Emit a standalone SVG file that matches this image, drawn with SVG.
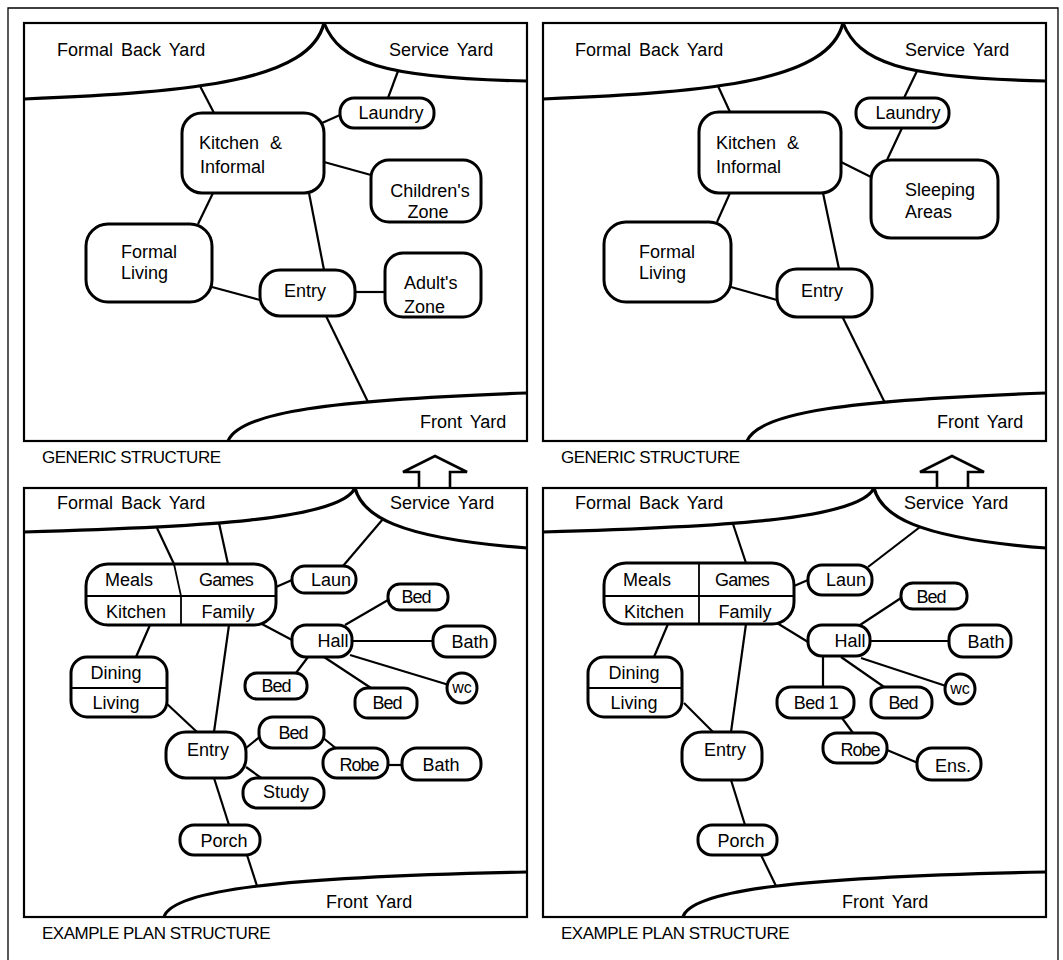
<svg xmlns="http://www.w3.org/2000/svg" width="1063" height="960" viewBox="0 0 1063 960">
<style>
.frame{fill:none;stroke:#000;stroke-width:1.3}
.panel{fill:none;stroke:#000;stroke-width:2.2}
.yard{fill:none;stroke:#000;stroke-width:3.2}
.node{fill:#fff;stroke:#000;stroke-width:3}
.div{fill:none;stroke:#000;stroke-width:1.8}
.link{fill:none;stroke:#000;stroke-width:2.2}
.arrow{fill:none;stroke:#000;stroke-width:2.6;stroke-linejoin:miter}
text{font-family:"Liberation Sans",Arial,Helvetica,sans-serif;font-size:18px;fill:#000}
.mid{text-anchor:middle}
.cap{font-size:17px;letter-spacing:-0.5px}
.yl{word-spacing:3px}
.sm{font-size:16px}
</style>
<rect width="1063" height="960" fill="#fff"/>
<path class="frame" d="M8,962 V8 H1058 V962"/>

<!-- panel frames -->
<g id="panel-tl">
<rect class="panel" x="24" y="23" width="503" height="418"/>
<path class="yard" d="M24,99 C200,92 310,80 324,23"/>
<path class="yard" d="M324,23 C340,62 380,78 527,81"/>
<path class="yard" d="M228,441 C240,412 330,400 527,393"/>
<text class="yl" x="57" y="56">Formal Back Yard</text>
<text class="yl" x="389" y="56">Service Yard</text>
<text class="yl" x="420" y="428">Front Yard</text>
<text class="cap" x="42" y="463">GENERIC STRUCTURE</text>
</g>
<g id="panel-tr">
<g transform="translate(519,0)">
<rect class="panel" x="24" y="23" width="503" height="418"/>
<path class="yard" d="M24,99 C200,92 310,80 324,23"/>
<path class="yard" d="M324,23 C340,62 380,78 527,81"/>
<path class="yard" d="M228,441 C240,412 330,400 527,393"/>
</g>
<text class="yl" x="575" y="56">Formal Back Yard</text>
<text class="yl" x="905" y="56">Service Yard</text>
<text class="yl" x="937" y="428">Front Yard</text>
<text class="cap" x="561" y="463">GENERIC STRUCTURE</text>
</g>
<g id="panel-bl">
<rect class="panel" x="24" y="488" width="503" height="429"/>
<path class="yard" d="M24,532 C200,527 340,520 355,488"/>
<path class="yard" d="M355,488 C362,515 395,538 527,548"/>
<path class="yard" d="M164,917 C172,890 280,877 527,872"/>
<text class="yl" x="57" y="509">Formal Back Yard</text>
<text class="yl" x="390" y="509">Service Yard</text>
<text class="yl" x="326" y="908">Front Yard</text>
<text class="cap" x="42" y="939">EXAMPLE PLAN STRUCTURE</text>
</g>
<g id="panel-br">
<g transform="translate(519,0)">
<rect class="panel" x="24" y="488" width="503" height="429"/>
<path class="yard" d="M24,532 C200,527 340,520 355,488"/>
<path class="yard" d="M355,488 C362,515 395,538 527,548"/>
<path class="yard" d="M164,917 C172,890 280,877 527,872"/>
</g>
<text class="yl" x="575" y="509">Formal Back Yard</text>
<text class="yl" x="904" y="509">Service Yard</text>
<text class="yl" x="842" y="908">Front Yard</text>
<text class="cap" x="561" y="939">EXAMPLE PLAN STRUCTURE</text>
</g>

<g id="arrow-left"><path class="arrow" d="M419,488 V472 H403 L435,456 L467,472 H450 V488"/></g>
<g id="arrow-right"><path class="arrow" d="M937,488 V472 H920 L952,456 L984,472 H968 V488"/></g>

<!-- connectors -->
<g id="connectors" class="link">
<!-- TL -->
<path d="M200,86 L214,113"/>
<path d="M398,71 L388,98"/>
<path d="M322,123 L340,115"/>
<path d="M324,162 L371,175"/>
<path d="M213,193 L198,224"/>
<path d="M309,193 L324,270"/>
<path d="M212,287 L260,300"/>
<path d="M355,292 L385,292"/>
<path d="M326,316 L368,402"/>
<!-- TR -->
<path d="M718,86 L730,112"/>
<path d="M917,71 L904,98"/>
<path d="M902,128 L887,160"/>
<path d="M841,162 L871,177"/>
<path d="M730,193 L717,222"/>
<path d="M823,193 L839,269"/>
<path d="M731,287 L777,300"/>
<path d="M842,316 L885,403"/>
<!-- BL -->
<path d="M157,528 L174,564"/>
<path d="M219,523 L228,564"/>
<path d="M383,519 L343,566"/>
<path d="M276,587 L292,580"/>
<path d="M260,623 L292,640"/>
<path d="M345,625 L388,600"/>
<path d="M352,641 L433,641"/>
<path d="M350,655 L449,685"/>
<path d="M308,657 L296,673"/>
<path d="M324,657 L371,688"/>
<path d="M229,625 L214,732"/>
<path d="M150,625 L136,657"/>
<path d="M166,703 L197,732"/>
<path d="M246,748 L262,735"/>
<path d="M322,737 L338,750"/>
<path d="M388,765 L402,765"/>
<path d="M246,767 L264,780"/>
<path d="M214,778 L229,825"/>
<path d="M247,855 L257,886"/>
<!-- BR -->
<path d="M733,524 L746,563"/>
<path d="M920,527 L868,567"/>
<path d="M794,586 L808,580"/>
<path d="M777,623 L808,642"/>
<path d="M860,625 L901,598"/>
<path d="M870,641 L949,641"/>
<path d="M861,658 L946,686"/>
<path d="M823,657 L823,687"/>
<path d="M841,657 L887,689"/>
<path d="M746,624 L731,732"/>
<path d="M668,624 L654,657"/>
<path d="M684,703 L713,732"/>
<path d="M842,718 L853,733"/>
<path d="M887,750 L918,763"/>
<path d="M731,780 L745,825"/>
<path d="M761,855 L776,886"/>
</g>

<!-- TL nodes -->
<g id="tl-kitchen"><rect class="node" x="182" y="113" width="142" height="80" rx="20"/><text x="199" y="149" style="word-spacing:6px">Kitchen &amp;</text><text x="200" y="173">Informal</text></g>
<g id="tl-laundry"><rect class="node" x="340" y="98" width="94" height="30" rx="14"/><text class="mid" x="391" y="119">Laundry</text></g>
<g id="tl-children"><rect class="node" x="371" y="160" width="110" height="62" rx="18"/><text class="mid" x="430" y="197">Children's</text><text class="mid" x="428" y="218">Zone</text></g>
<g id="tl-formal"><rect class="node" x="86" y="224" width="126" height="78" rx="22"/><text x="121" y="258">Formal</text><text x="121" y="279">Living</text></g>
<g id="tl-entry"><rect class="node" x="260" y="270" width="95" height="46" rx="20"/><text class="mid" x="305" y="297">Entry</text></g>
<g id="tl-adult"><rect class="node" x="385" y="253" width="96" height="64" rx="18"/><text x="404" y="289">Adult's</text><text x="404" y="313">Zone</text></g>

<!-- TR nodes -->
<g id="tr-kitchen"><rect class="node" x="699" y="112" width="142" height="81" rx="20"/><text x="716" y="149" style="word-spacing:6px">Kitchen &amp;</text><text x="716" y="173">Informal</text></g>
<g id="tr-laundry"><rect class="node" x="856" y="98" width="93" height="30" rx="14"/><text class="mid" x="908" y="119">Laundry</text></g>
<g id="tr-sleeping"><rect class="node" x="871" y="160" width="127" height="78" rx="20"/><text x="905" y="196">Sleeping</text><text x="905" y="218">Areas</text></g>
<g id="tr-formal"><rect class="node" x="604" y="222" width="127" height="80" rx="22"/><text x="639" y="258">Formal</text><text x="639" y="279">Living</text></g>
<g id="tr-entry"><rect class="node" x="777" y="269" width="95" height="48" rx="20"/><text class="mid" x="822" y="297">Entry</text></g>

<!-- BL nodes -->
<g id="bl-kitchen-family"><rect class="node" x="86" y="564" width="190" height="61" rx="22"/><path class="div" d="M86,596 H276 M174,564 L181,596 V625"/><text class="mid" x="129" y="586">Meals</text><text class="mid" x="226" y="586" style="letter-spacing:-0.8px">Games</text><text class="mid" x="136" y="618">Kitchen</text><text class="mid" x="228" y="618">Family</text></g>
<g id="bl-laun"><rect class="node" x="292" y="566" width="64" height="27" rx="13"/><text class="mid" x="331" y="586">Laun</text></g>
<g id="bl-hall"><rect class="node" x="292" y="625" width="60" height="32" rx="14"/><text class="mid" x="333" y="647">Hall</text></g>
<g id="bl-bed-a"><rect class="node" x="388" y="584" width="60" height="26" rx="12"/><text class="mid" x="416" y="603" style="letter-spacing:-1px">Bed</text></g>
<g id="bl-bath-a"><rect class="node" x="433" y="626" width="62" height="31" rx="14"/><text class="mid" x="470" y="648">Bath</text></g>
<g id="bl-wc"><circle class="node" cx="462" cy="688" r="15"/><text class="mid sm" x="462" y="693">wc</text></g>
<g id="bl-bed-b"><rect class="node" x="245" y="673" width="62" height="26" rx="12"/><text class="mid" x="276" y="692" style="letter-spacing:-1px">Bed</text></g>
<g id="bl-bed-c"><rect class="node" x="355" y="688" width="62" height="30" rx="13"/><text class="mid" x="387" y="709" style="letter-spacing:-1px">Bed</text></g>
<g id="bl-dining-living"><rect class="node" x="71" y="657" width="96" height="60" rx="16"/><path class="div" d="M71,688 H167"/><text class="mid" x="116" y="679">Dining</text><text class="mid" x="116" y="709">Living</text></g>
<g id="bl-entry"><rect class="node" x="166" y="732" width="80" height="46" rx="20"/><text class="mid" x="208" y="756">Entry</text></g>
<g id="bl-bed-d"><rect class="node" x="259" y="717" width="65" height="31" rx="14"/><text class="mid" x="293" y="739" style="letter-spacing:-1px">Bed</text></g>
<g id="bl-robe"><rect class="node" x="323" y="748" width="65" height="30" rx="14"/><text class="mid" x="359" y="771" style="letter-spacing:-1px">Robe</text></g>
<g id="bl-bath-b"><rect class="node" x="402" y="748" width="79" height="32" rx="15"/><text class="mid" x="441" y="771">Bath</text></g>
<g id="bl-study"><rect class="node" x="243" y="778" width="81" height="30" rx="14"/><text class="mid" x="286" y="798">Study</text></g>
<g id="bl-porch"><rect class="node" x="180" y="825" width="80" height="30" rx="14"/><text class="mid" x="224" y="847">Porch</text></g>

<!-- BR nodes -->
<g id="br-kitchen-family"><rect class="node" x="604" y="563" width="190" height="61" rx="22"/><path class="div" d="M604,596 H794 M699,563 V624"/><text class="mid" x="647" y="586">Meals</text><text class="mid" x="742" y="586" style="letter-spacing:-0.8px">Games</text><text class="mid" x="654" y="618">Kitchen</text><text class="mid" x="745" y="618">Family</text></g>
<g id="br-laun"><rect class="node" x="808" y="565" width="64" height="30" rx="14"/><text class="mid" x="846" y="586">Laun</text></g>
<g id="br-hall"><rect class="node" x="808" y="625" width="62" height="31" rx="14"/><text class="mid" x="850" y="647">Hall</text></g>
<g id="br-bed-a"><rect class="node" x="901" y="583" width="66" height="26" rx="12"/><text class="mid" x="931" y="603" style="letter-spacing:-1px">Bed</text></g>
<g id="br-bath"><rect class="node" x="949" y="625" width="62" height="32" rx="14"/><text class="mid" x="986" y="648">Bath</text></g>
<g id="br-wc"><circle class="node" cx="960" cy="689" r="15"/><text class="mid sm" x="960" y="694">wc</text></g>
<g id="br-bed1"><rect class="node" x="777" y="687" width="77" height="31" rx="14"/><text class="mid" x="816" y="709" style="letter-spacing:-0.5px">Bed 1</text></g>
<g id="br-bed-b"><rect class="node" x="871" y="687" width="61" height="31" rx="14"/><text class="mid" x="903" y="709" style="letter-spacing:-1px">Bed</text></g>
<g id="br-dining-living"><rect class="node" x="588" y="657" width="94" height="60" rx="16"/><path class="div" d="M588,688 H682"/><text class="mid" x="634" y="679">Dining</text><text class="mid" x="634" y="709">Living</text></g>
<g id="br-entry"><rect class="node" x="682" y="732" width="80" height="48" rx="20"/><text class="mid" x="725" y="756">Entry</text></g>
<g id="br-robe"><rect class="node" x="823" y="733" width="64" height="30" rx="14"/><text class="mid" x="860" y="756" style="letter-spacing:-1px">Robe</text></g>
<g id="br-ens"><rect class="node" x="917" y="748" width="64" height="32" rx="15"/><text class="mid" x="953" y="772">Ens.</text></g>
<g id="br-porch"><rect class="node" x="698" y="825" width="79" height="30" rx="14"/><text class="mid" x="741" y="847">Porch</text></g>
</svg>
